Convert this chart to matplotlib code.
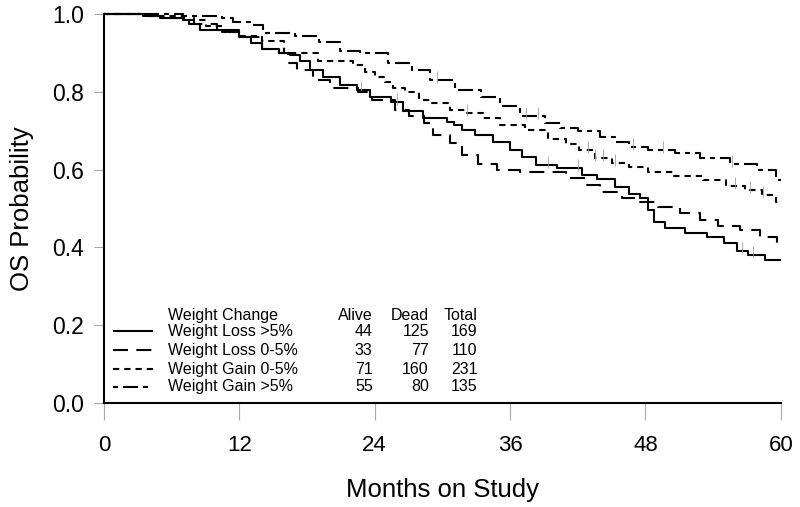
import numpy as np
import matplotlib
matplotlib.use("Agg")
import matplotlib.pyplot as plt

plt.rcParams['font.family'] = ['Liberation Sans', 'DejaVu Sans']

# ---------------- data ----------------
groups = ["Weight Loss >5%", "Weight Loss 0-5%", "Weight Gain 0-5%", "Weight Gain >5%"]
alive = [44, 33, 71, 55]
dead = [125, 77, 160, 80]
total = [169, 110, 231, 135]

x_ticks = [0, 12, 24, 36, 48, 60]
y_ticks = [0.0, 0.2, 0.4, 0.6, 0.8, 1.0]

# Weight Loss >5%
loss5_t = [0, 3.5, 5, 7, 7.5, 8.5, 11, 12, 13, 14, 15.5, 16.5, 17.4, 18.3, 19.4, 20.9,
           22.4, 23.6, 25.4, 26.5, 28.3, 30.4, 31.0, 31.7, 32.9, 34.5, 36.0, 37.1, 38.3,
           40.2, 42.4, 43.7, 45.3, 46.5, 47.5, 48.2, 48.8, 49.7, 51.5, 53.5, 55.0, 56.1,
           57.1, 58.6, 60]
loss5_s = [1.0, 0.995, 0.99, 0.985, 0.975, 0.96, 0.955, 0.94, 0.925, 0.91, 0.90, 0.895,
           0.88, 0.856, 0.838, 0.817, 0.805, 0.787, 0.775, 0.75, 0.733, 0.722, 0.715,
           0.702, 0.689, 0.671, 0.65, 0.632, 0.612, 0.604, 0.586, 0.576, 0.555, 0.537,
           0.527, 0.496, 0.465, 0.45, 0.437, 0.427, 0.411, 0.391, 0.38, 0.368, 0.368]
loss5_cens = [22.8, 26.0, 39.4, 42.0, 56.6, 57.5]

# Weight Loss 0-5%
loss05_t = [0, 4, 5.5, 8, 10, 12, 14, 15.5, 16.3, 17.1, 18.5, 20, 22.5, 23.8, 25.8, 27,
            28.4, 29.2, 30.7, 31.7, 33.2, 34.8, 36.9, 41, 42.6, 44, 45.9, 47.5, 49.1,
            51.1, 52.8, 54.4, 56.4, 58.2, 59.7, 60]
loss05_s = [1.0, 0.995, 0.99, 0.975, 0.96, 0.94, 0.91, 0.9, 0.875, 0.856, 0.83, 0.81,
            0.80, 0.78, 0.753, 0.738, 0.72, 0.69, 0.668, 0.637, 0.614, 0.60, 0.594,
            0.578, 0.56, 0.542, 0.527, 0.518, 0.504, 0.488, 0.47, 0.455, 0.445, 0.427,
            0.411, 0.411]
loss05_cens = []

# Weight Gain 0-5%
gain05_t = [0, 4, 7, 9, 10.5, 12, 14, 16, 19, 22.1, 23.1, 24, 24.9, 25.6, 26.7, 27.9,
            29.1, 30.7, 32, 33.6, 35.1, 37.3, 39.4, 41, 42.1, 43.5, 45, 46.5, 48.2,
            50.4, 53.1, 55.1, 56.8, 58.3, 59.6, 60]
gain05_s = [1.0, 0.995, 0.985, 0.97, 0.955, 0.945, 0.93, 0.90, 0.88, 0.869, 0.851,
            0.838, 0.825, 0.81, 0.80, 0.78, 0.771, 0.753, 0.746, 0.733, 0.715, 0.702,
            0.679, 0.666, 0.65, 0.63, 0.617, 0.607, 0.594, 0.584, 0.574, 0.558, 0.548,
            0.535, 0.517, 0.517]
gain05_cens = [32.2, 42.9, 43.5, 44.2, 45.3, 55.9, 57.3, 58.4]

# Weight Gain >5%
gain5_t = [0, 7, 10.5, 11.4, 12.9, 14.1, 16.9, 19.1, 20.9, 22.7, 25.2, 27.3, 28.9,
           31.1, 33.4, 35.1, 36.9, 39.1, 40.4, 42, 44, 45.3, 46.5, 48.2, 50.6, 52.8,
           55.5, 57.9, 59.6, 60]
gain5_s = [1.0, 0.995, 0.99, 0.98, 0.972, 0.951, 0.943, 0.928, 0.905, 0.90, 0.874,
           0.856, 0.83, 0.805, 0.787, 0.763, 0.738, 0.72, 0.707, 0.70, 0.684, 0.671,
           0.658, 0.65, 0.643, 0.63, 0.614, 0.599, 0.573, 0.573]
gain5_cens = [29.5, 37.4, 38.5, 46.9, 49.6, 55.7]

series = [(loss5_t, loss5_s, loss5_cens),
          (loss05_t, loss05_s, loss05_cens),
          (gain05_t, gain05_s, gain05_cens),
          (gain5_t, gain5_s, gain5_cens)]

# ---------------- styles ----------------
lw = 1.5
styles = ['-', (0, (7.2, 4.0)), (0, (3.0, 2.4)), (0, (2.4, 2.4, 7.2, 2.4))]

fig = plt.figure(figsize=(8, 5.07), dpi=100)
ax = fig.add_axes([0.13, 0.2051, 0.846, 0.767])

for (t, s, c), ls in zip(series, styles):
    ax.step(t, s, where='post', color='black', lw=lw, linestyle=ls,
            clip_on=False, solid_capstyle='butt', dash_capstyle='butt')
    if c:
        idx = np.searchsorted(np.array(t), np.array(c), side='right') - 1
        cy = np.array(s)[idx]
        ax.plot(c, cy + 0.008, linestyle='none', marker='|', markersize=8,
                markeredgewidth=0.6, color='#a0a0a0')

ax.set_xlim(0, 60)
ax.set_ylim(0, 1)
ax.set_xticks(x_ticks)
ax.set_yticks(y_ticks)
ax.set_xticklabels([str(v) for v in x_ticks])
ax.set_yticklabels([f"{v:.1f}" for v in y_ticks])

for side in ['top', 'right']:
    ax.spines[side].set_visible(False)
for side in ['left', 'bottom']:
    ax.spines[side].set_linewidth(1.5)
    ax.spines[side].set_color('black')

ax.tick_params(axis='x', direction='out', length=12, width=0.8, color='#a8a8a8',
               labelsize=16, pad=11)
ax.tick_params(axis='y', direction='out', length=7.5, width=0.8, color='#a8a8a8',
               labelsize=16.5, pad=7)

ax.set_xlabel("Months on Study", fontsize=18.5, labelpad=16)
ax.set_ylabel("OS Probability", fontsize=18.5, labelpad=13)

# ---------------- legend table ----------------
fs = 11.5
tr = ax.transAxes
x_line0, x_line1 = 0.013, 0.072
x_name = 0.0945
x_alive, x_dead, x_total = 0.397, 0.480, 0.552
y_head = 0.226
row_y = [0.184, 0.136, 0.087, 0.042]

ax.text(x_name, y_head, "Weight Change", transform=tr, fontsize=fs, va='center', ha='left')
ax.text(x_alive, y_head, "Alive", transform=tr, fontsize=fs, va='center', ha='right')
ax.text(x_dead, y_head, "Dead", transform=tr, fontsize=fs, va='center', ha='right')
ax.text(x_total, y_head, "Total", transform=tr, fontsize=fs, va='center', ha='right')
for g, a, d, n, ls, y in zip(groups, alive, dead, total, styles, row_y):
    ax.plot([x_line0, x_line1], [y, y], transform=tr, color='black', lw=lw,
            linestyle=ls, dash_capstyle='butt', solid_capstyle='butt')
    ax.text(x_name, y, g, transform=tr, fontsize=fs, va='center', ha='left')
    ax.text(x_alive, y, str(a), transform=tr, fontsize=fs, va='center', ha='right')
    ax.text(x_dead, y, str(d), transform=tr, fontsize=fs, va='center', ha='right')
    ax.text(x_total, y, str(n), transform=tr, fontsize=fs, va='center', ha='right')

fig.savefig("out.png", dpi=100)
